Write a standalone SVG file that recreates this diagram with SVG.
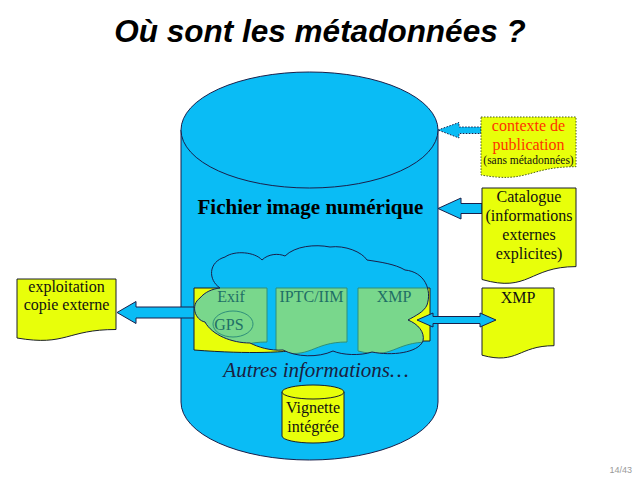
<svg xmlns="http://www.w3.org/2000/svg" width="638" height="479" viewBox="0 0 638 479">
<style>
.bg{fill:#ffffff}
.blue{fill:#0ABCF5;stroke:#1a1f4a;stroke-width:1}
.yel{fill:#E8FF0A;stroke:#1a1f2a;stroke-width:1}
.yeldot{fill:#E8FF0A;stroke:#4a5a20;stroke-width:1;stroke-dasharray:1.5 1.5}
.grn{fill:#79D78C;stroke:#2E8F7A;stroke-width:1}
.arr{fill:#0ABCF5;stroke:#1a1f4a;stroke-width:1}
.arrdot{fill:#0ABCF5;stroke:#1a1f4a;stroke-width:1;stroke-dasharray:1.5 1.5}
.serif{font-family:"Liberation Serif","Times New Roman",serif}
.t16{font-size:16px;fill:#111}
.gt{font-size:16px;fill:#1F6F66}
.c{text-anchor:middle}
</style>
<defs>
<clipPath id="cloudclip">
<path id="cloudshape" d="M220,288 C208,280 208,262 225,257 C235,250 255,252 262,260 C268,254 278,253 285,256 C295,246 315,244 330,247 C345,245 362,252 367,260 C380,262 395,264 405,270 C425,272 432,290 427,305 C424,312 415,316 408,320 C418,324 425,332 423,341 C418,353 392,356 372,352 C360,356 342,355 333,351 C318,358 296,357 283,350 C270,351 258,347 250,343 C232,343 212,335 205,322 C195,320 190,305 200,298 C205,292 212,289 220,288 Z"/>
</clipPath>
</defs>
<rect class="bg" x="0" y="0" width="638" height="479"/>

<text x="320" y="42" font-family="Liberation Sans, Arial, sans-serif" font-size="31.5" font-weight="bold" font-style="italic" text-anchor="middle" fill="#000">Où sont les métadonnées ?</text>

<g id="fichier">
<path class="blue" d="M181,130 V402 A128.5,58 0 0 0 438,402 V130"/>
<ellipse class="blue" cx="309.5" cy="130" rx="128.5" ry="58"/>
<text class="serif c" x="310.5" y="214" font-size="21" font-weight="bold" fill="#000">Fichier image numérique</text>
<text class="serif c" x="316" y="377" font-size="21" font-style="italic" fill="#1a2040">Autres informations…</text>
</g>

<g id="connectors">
<path class="arrdot" d="M438,130 L459,122.5 L459,127 L481,127 L481,133.5 L459,133.5 L459,138 Z"/>
<path class="arr" d="M438,208.5 L461,198 L461,203.5 L482,203.5 L482,213.5 L461,213.5 L461,219 Z"/>
<path class="arr" d="M117,312.5 L136,301.5 L136,307 L200,307 L200,318 L136,318 L136,323.5 Z"/>
</g>

<g id="metadonnees">
<path class="yel" d="M194,288 H430 V341 C312,341 312,359 194,350 Z"/>
<path d="M220,288 C208,280 208,262 225,257 C235,250 255,252 262,260 C268,254 278,253 285,256 C295,246 315,244 330,247 C345,245 362,252 367,260 C380,262 395,264 405,270 C425,272 432,290 427,305 C424,312 415,316 408,320 C418,324 425,332 423,341 C418,353 392,356 372,352 C360,356 342,355 333,351 C318,358 296,357 283,350 C270,351 258,347 250,343 C232,343 212,335 205,322 C195,320 190,305 200,298 C205,292 212,289 220,288 Z" fill="#0ABCF5" stroke="none"/>
<g clip-path="url(#cloudclip)">
<g id="exif">
<path class="grn" d="M194,288 H267 V342 C230.5,342 230.5,360 194,354 Z"/>
</g>
<g id="iptc">
<path class="grn" d="M276,288 H347 V342 C311.5,342 311.5,360 276,351 Z"/>
</g>
<g id="xmp-int">
<path class="grn" d="M358,288 H429 V342 C393.5,342 393.5,360 358,351 Z"/>
</g>
</g>
<path d="M220,288 C208,280 208,262 225,257 C235,250 255,252 262,260 C268,254 278,253 285,256 C295,246 315,244 330,247 C345,245 362,252 367,260 C380,262 395,264 405,270 C425,272 432,290 427,305 C424,312 415,316 408,320 C418,324 425,332 423,341 C418,353 392,356 372,352 C360,356 342,355 333,351 C318,358 296,357 283,350 C270,351 258,347 250,343 C232,343 212,335 205,322 C195,320 190,305 200,298 C205,292 212,289 220,288 Z" fill="none" stroke="#1a1f4a" stroke-width="1"/>
<text class="serif gt c" x="231" y="302">Exif</text>
<ellipse cx="233" cy="324" rx="20" ry="13" fill="none" stroke="#2E8F7A" stroke-width="1"/>
<text class="serif gt c" x="229" y="330">GPS</text>
<text class="serif gt c" x="311.5" y="302">IPTC/IIM</text>
<text class="serif gt c" x="394" y="302">XMP</text>
</g>

<g id="contexte">
<path class="yeldot" d="M481,117 H576 V166.7 C528.5,166.7 528.5,183.5 481,175 Z"/>
<text class="serif c" x="528.5" y="131" font-size="16" fill="#FF3300">contexte de</text>
<text class="serif c" x="528.5" y="150" font-size="16" fill="#FF3300">publication</text>
<text class="serif c" x="528.5" y="164" font-size="11.5" fill="#111">(sans métadonnées)</text>
</g>

<g id="catalogue">
<path class="yel" d="M482,188 H576 V266.6 C529,266.6 529,293 482,279.5 Z"/>
<text class="serif t16 c" x="529" y="202">Catalogue</text>
<text class="serif t16 c" x="529" y="221">(informations</text>
<text class="serif t16 c" x="529" y="240">externes</text>
<text class="serif t16 c" x="529" y="259">explicites)</text>
</g>

<g id="exploitation">
<path class="yel" d="M17,279 H116 V329.5 C66.5,329.5 66.5,346.5 17,338 Z"/>
<text class="serif t16 c" x="66.5" y="292">exploitation</text>
<text class="serif t16 c" x="66.5" y="310">copie externe</text>
</g>

<g id="xmp-ext">
<path class="yel" d="M482,288 H554 V345.7 C518,345.7 518,365 482,355.2 Z"/>
<text class="serif t16 c" x="518" y="303">XMP</text>
</g>

<g id="xmp-arrow">
<path class="arr" d="M417,320 L433,313 L433,316.5 L480,316.5 L480,313 L496,320 L480,327 L480,323.5 L433,323.5 L433,327 Z"/>
</g>

<g id="vignette">
<path class="yel" d="M282,392 V436 A31,7 0 0 0 344,436 V392"/>
<ellipse class="yel" cx="313" cy="392" rx="31" ry="7"/>
<text class="serif t16 c" x="313" y="413">Vignette</text>
<text class="serif t16 c" x="313" y="432">intégrée</text>
</g>

<text x="632" y="473" font-family="Liberation Sans, Arial, sans-serif" font-size="9" text-anchor="end" fill="#9a9a9a">14/43</text>
</svg>
